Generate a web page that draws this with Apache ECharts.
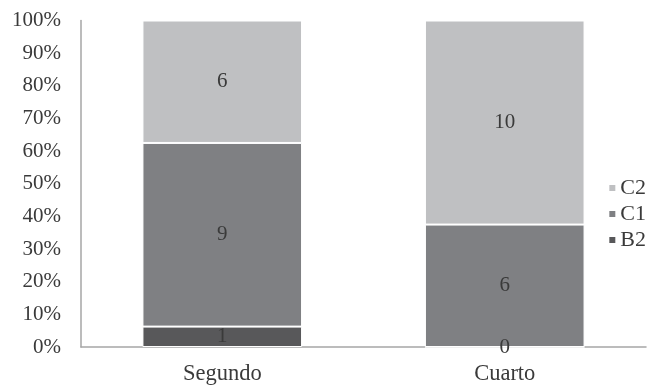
<!DOCTYPE html>
<html>
<head>
<meta charset="utf-8">
<script src="https://cdn.jsdelivr.net/npm/echarts@6/dist/echarts.min.js"></script>
<style>
  html, body { margin: 0; padding: 0; background: #ffffff; }
  #chart { width: 651px; height: 386px; }
</style>
</head>
<body>
<div id="chart"></div>
<script>
// Course levels and learner counts per CEFR band
var categories = ['Segundo', 'Cuarto'];
var seriesNames = ['B2', 'C1', 'C2'];
var countsB2 = [1, 0];
var countsC1 = [9, 6];
var countsC2 = [6, 10];
var yTickLabels = ['0%', '10%', '20%', '30%', '40%', '50%', '60%', '70%', '80%', '90%', '100%'];

var colors = { B2: '#58585a', C1: '#7f8083', C2: '#bfc0c2' };
var FONT = '"Liberation Serif", "Times New Roman", serif';
var TEXT = '#3a3a3a';

var countsBySeries = { B2: countsB2, C1: countsC1, C2: countsC2 };
var totals = categories.map(function (_, i) {
  return countsB2[i] + countsC1[i] + countsC2[i];
});

// Each segment is drawn as its share of the column total; the label shows the count
function shareData(counts) {
  return counts.map(function (c, i) {
    return { value: c / totals[i] * 100, count: c };
  });
}

var series = seriesNames.map(function (name) {
  return {
    name: name,
    type: 'bar',
    stack: 'total',
    barWidth: '56.5%',
    data: shareData(countsBySeries[name]),
    itemStyle: { color: colors[name], borderColor: '#ffffff', borderWidth: 1 },
    label: {
      show: true,
      position: 'inside',
      formatter: function (p) { return String(p.data.count); },
      color: TEXT,
      fontFamily: FONT,
      fontSize: 21
    },
    labelLayout: { hideOverlap: false }
  };
});

var chart = echarts.init(document.getElementById('chart'), null, { renderer: 'canvas' });
chart.setOption({
  animation: false,
  backgroundColor: '#ffffff',
  color: [colors.B2, colors.C1, colors.C2],
  grid: { left: 81, right: 5, top: 20.5, bottom: 39, containLabel: false },
  legend: {
    orient: 'vertical',
    right: 0,
    top: 172,
    data: ['C2', 'C1', 'B2'],
    itemWidth: 8,
    itemHeight: 8,
    itemGap: 4,
    icon: 'rect',
    textStyle: { fontFamily: FONT, fontSize: 22, color: TEXT, padding: [0, 0, 0, -1] }
  },
  xAxis: {
    type: 'category',
    data: categories,
    axisLine: { lineStyle: { color: '#a6a6a6', width: 1.5 } },
    axisTick: { show: false },
    axisLabel: { fontFamily: FONT, fontSize: 22.5, color: TEXT, margin: 16 }
  },
  yAxis: {
    type: 'value',
    min: 0,
    max: 100,
    interval: 10,
    splitLine: { show: false },
    axisLine: { show: true, lineStyle: { color: '#a6a6a6', width: 1.5 } },
    axisTick: { show: false },
    axisLabel: {
      fontFamily: FONT,
      fontSize: 21,
      color: TEXT,
      margin: 20,
      padding: [0, 0, 2, 0],
      formatter: function (v) { return yTickLabels[Math.round(v / 10)]; }
    }
  },
  series: series
});
</script>
</body>
</html>
